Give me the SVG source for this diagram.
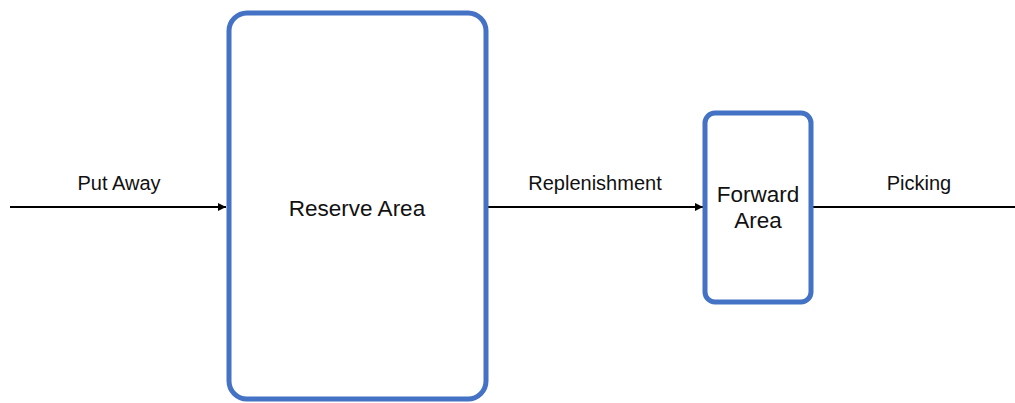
<svg xmlns="http://www.w3.org/2000/svg" width="1015" height="403" viewBox="0 0 1015 403">
<style>
.box{fill:#fff;stroke:#4472C4;stroke-width:5}
.conn{stroke:#000;stroke-width:1.8;fill:none}
.lbl{font-family:"Liberation Sans",Arial,sans-serif;font-size:20px;fill:#111;text-anchor:middle}
.big{font-family:"Liberation Sans",Arial,sans-serif;font-size:22.5px;fill:#111;text-anchor:middle}
</style>
<defs>
<marker id="arr" viewBox="0 0 10 10" refX="10" refY="5" markerWidth="4.5" markerHeight="4.5" orient="auto" markerUnits="strokeWidth">
<path d="M0,0 L10,5 L0,10 z" fill="#000"/>
</marker>
</defs>
<rect width="1015" height="403" fill="#fff"/>
<g id="connectors">
<line class="conn" x1="10" y1="207" x2="226" y2="207" marker-end="url(#arr)"/>
<line class="conn" x1="486" y1="207" x2="703" y2="207" marker-end="url(#arr)"/>
<line class="conn" x1="813" y1="207" x2="1015" y2="207"/>
<text class="lbl" x="119" y="190">Put Away</text>
<text class="lbl" x="595" y="190">Replenishment</text>
<text class="lbl" x="919" y="190">Picking</text>
</g>
<g id="reserve">
<rect class="box" x="229" y="13" width="257" height="386" rx="18"/>
<text class="big" x="357" y="216">Reserve Area</text>
</g>
<g id="forward">
<rect class="box" x="705" y="113" width="106" height="189" rx="10"/>
<text class="big" x="758" y="202">Forward</text>
<text class="big" x="758" y="228">Area</text>
</g>
</svg>
